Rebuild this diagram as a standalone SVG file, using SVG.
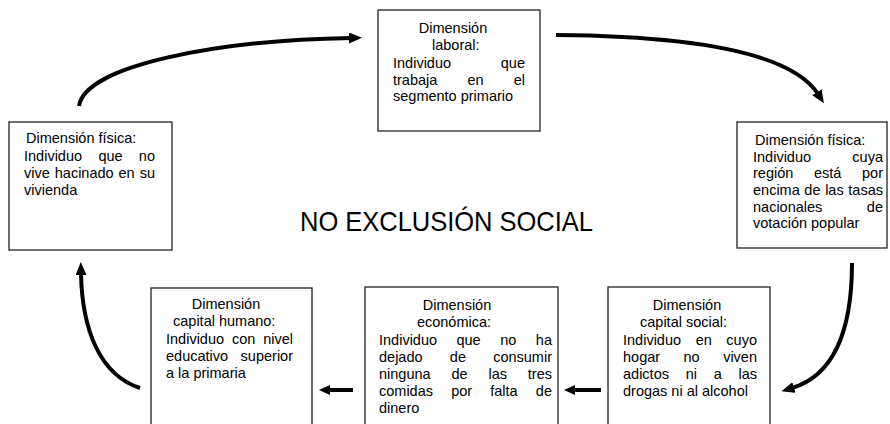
<svg xmlns="http://www.w3.org/2000/svg" width="890" height="424" viewBox="0 0 890 424">
<style>
.box{fill:#fff;stroke:#222;stroke-width:1.3}
.t{font-family:"Liberation Sans",Arial,sans-serif;font-size:14.5px;fill:#000}
.m{text-anchor:middle}
.e{text-anchor:end}
.title{font-family:"Liberation Sans",Arial,sans-serif;font-size:28px;fill:#000}
.c{fill:none;stroke:#000;stroke-width:4}
</style>
<defs>
<marker id="ah" markerUnits="userSpaceOnUse" viewBox="0 0 13 11" refX="2" refY="5.5" markerWidth="13" markerHeight="11" orient="auto">
<path d="M0,0 L13,5.5 L0,11 z" fill="#000"/>
</marker>
<marker id="ahs" markerUnits="userSpaceOnUse" viewBox="0 0 11 10" refX="2" refY="5" markerWidth="11" markerHeight="10" orient="auto">
<path d="M0,0 L11,5 L0,10 z" fill="#000"/>
</marker>
</defs>
<rect width="890" height="424" fill="#fff"/>

<g id="connectors">
<path class="c" d="M79,106 C85,65 220,40 351,38" marker-end="url(#ah)"/>
<path class="c" d="M556,35 C680,36 790,50 818,94" marker-end="url(#ah)"/>
<path class="c" d="M852,263 C852,330 835,375 792,388" marker-end="url(#ah)"/>
<path class="c" d="M140,388 C100,375 82,330 81,273" marker-end="url(#ah)"/>
<path class="c" d="M353,390 L328,390" marker-end="url(#ahs)"/>
<path class="c" d="M601,390 L573,390" marker-end="url(#ahs)"/>
</g>

<g id="title">
<text class="title" x="300" y="231" textLength="293" lengthAdjust="spacingAndGlyphs">NO EXCLUSIÓN SOCIAL</text>
</g>

<g id="laboral">
<rect class="box" x="378" y="10" width="162" height="121"/>
<text class="t m" x="453" y="33">Dimensión</text>
<text class="t" x="432" y="50">laboral:</text>
<text class="t" x="393" y="68">Individuo</text><text class="t e" x="525" y="68">que</text>
<text class="t" x="393" y="85">trabaja</text><text class="t m" x="475.5" y="85">en</text><text class="t e" x="525" y="85">el</text>
<text class="t" x="393" y="101">segmento primario</text>
</g>

<g id="fisica-izq">
<rect class="box" x="9" y="122" width="163" height="128"/>
<text class="t" x="26" y="143">Dimensión física:</text>
<text class="t" x="24" y="161">Individuo</text><text class="t m" x="110.5" y="161">que</text><text class="t e" x="155" y="161">no</text>
<text class="t" x="24" y="178">vive</text><text class="t m" x="84.2" y="178">hacinado</text><text class="t m" x="126.6" y="178">en</text><text class="t e" x="155" y="178">su</text>
<text class="t" x="24" y="195">vivienda</text>
</g>

<g id="fisica-der">
<rect class="box" x="737" y="122" width="150" height="126"/>
<text class="t" x="755" y="145">Dimensión física:</text>
<text class="t" x="753" y="162">Individuo</text><text class="t e" x="883" y="162">cuya</text>
<text class="t" x="753" y="178">región</text><text class="t m" x="827.6" y="178">está</text><text class="t e" x="883" y="178">por</text>
<text class="t" x="753" y="195">encima</text><text class="t m" x="812.4" y="195">de</text><text class="t m" x="834.4" y="195">las</text><text class="t e" x="883" y="195">tasas</text>
<text class="t" x="753" y="212">nacionales</text><text class="t e" x="883" y="212">de</text>
<text class="t" x="753" y="228">votación popular</text>
</g>

<g id="capital-humano">
<rect class="box" x="151" y="288" width="161" height="145"/>
<text class="t m" x="226" y="309">Dimensión</text>
<text class="t" x="173" y="326">capital humano:</text>
<text class="t" x="166" y="344">Individuo</text><text class="t m" x="243.6" y="344">con</text><text class="t e" x="293" y="344">nivel</text>
<text class="t" x="166" y="361">educativo</text><text class="t e" x="293" y="361">superior</text>
<text class="t" x="166" y="378">a la primaria</text>
</g>

<g id="economica">
<rect class="box" x="365" y="287" width="193" height="146"/>
<text class="t m" x="457" y="310">Dimensión</text>
<text class="t m" x="454" y="327">económica:</text>
<text class="t" x="379" y="345">Individuo</text><text class="t m" x="468.6" y="345">que</text><text class="t m" x="508.3" y="345">no</text><text class="t e" x="552" y="345">ha</text>
<text class="t" x="379" y="362">dejado</text><text class="t m" x="457.9" y="362">de</text><text class="t e" x="552" y="362">consumir</text>
<text class="t" x="379" y="379">ninguna</text><text class="t m" x="459.5" y="379">de</text><text class="t m" x="497.7" y="379">las</text><text class="t e" x="552" y="379">tres</text>
<text class="t" x="379" y="396">comidas</text><text class="t m" x="461.7" y="396">por</text><text class="t m" x="504" y="396">falta</text><text class="t e" x="552" y="396">de</text>
<text class="t" x="379" y="413">dinero</text>
</g>

<g id="capital-social">
<rect class="box" x="608" y="287" width="162" height="146"/>
<text class="t m" x="687" y="310">Dimensión</text>
<text class="t" x="640" y="327">capital social:</text>
<text class="t" x="623" y="345">Individuo</text><text class="t m" x="703.7" y="345">en</text><text class="t e" x="757" y="345">cuyo</text>
<text class="t" x="623" y="362">hogar</text><text class="t m" x="691.6" y="362">no</text><text class="t e" x="757" y="362">viven</text>
<text class="t" x="623" y="379">adictos</text><text class="t m" x="691.3" y="379">ni</text><text class="t m" x="717.7" y="379">a</text><text class="t e" x="757" y="379">las</text>
<text class="t" x="623" y="396">drogas ni al alcohol</text>
</g>
</svg>
